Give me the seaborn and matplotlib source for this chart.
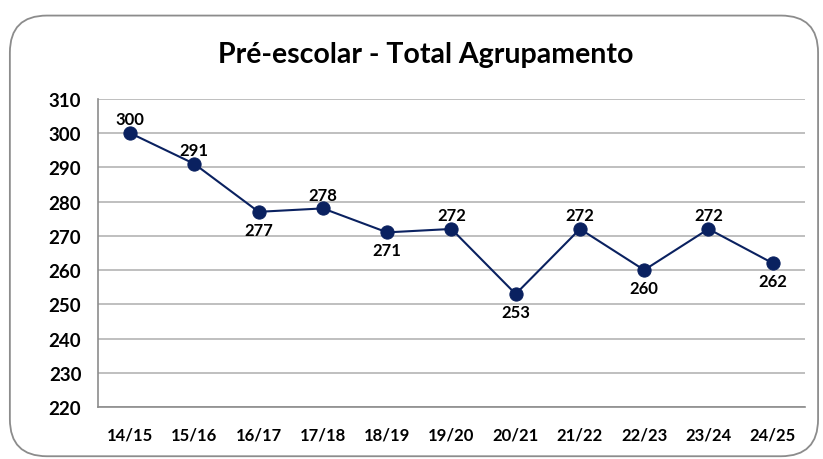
import matplotlib
matplotlib.use("Agg")
import matplotlib.pyplot as plt
import seaborn as sns
import pandas as pd
import numpy as np
from matplotlib.patches import FancyBboxPatch

# data
anos = ["14/15", "15/16", "16/17", "17/18", "18/19", "19/20",
        "20/21", "21/22", "22/23", "23/24", "24/25"]
alunos = [300, 291, 277, 278, 271, 272, 253, 272, 260, 272, 262]
label_pos = ["above", "above", "below", "above", "below", "above",
             "below", "above", "below", "above", "below"]
y_ticks = list(range(220, 311, 10))

df = pd.DataFrame({"ano": anos, "alunos": alunos, "pos": label_pos})
df["x"] = np.arange(len(df))

sns.set_style("white")
plt.rcParams["font.family"] = ["Lato", "DejaVu Sans"]
plt.rcParams["text.color"] = "black"
plt.rcParams["xtick.labelcolor"] = "black"
plt.rcParams["ytick.labelcolor"] = "black"

navy = "#0a2160"
grid_c = "#bfbfbf"

fig = plt.figure(figsize=(8.23, 4.60), dpi=100)
ax = fig.add_axes([0.119, 0.113, 0.859, 0.670])

# rounded chart border
border = FancyBboxPatch((0.012, 0.006), 0.982, 0.958,
                        boxstyle="round,pad=0,rounding_size=0.045",
                        transform=fig.transFigure, facecolor="none",
                        edgecolor="#8c8c8c", linewidth=1.3, zorder=-1,
                        mutation_aspect=823 / 460)
fig.patches.append(border)

sns.lineplot(data=df, x="x", y="alunos", ax=ax, color=navy, linewidth=1.5,
             marker="o", markersize=9.5, markeredgecolor=navy, zorder=3)

for _, r in df.iterrows():
    off = 10 if r["pos"] == "above" else -13
    ax.annotate(str(r["alunos"]), (r["x"], r["alunos"]), xytext=(0, off),
                textcoords="offset points", ha="center", va="center",
                fontsize=12, fontweight="bold", color="black")

ax.set_xlim(-0.5, len(anos) - 0.5)
ax.set_ylim(220, 310)
ax.set_yticks(y_ticks)
ax.set_yticklabels([str(v) for v in y_ticks], fontsize=13.5, fontweight="bold")
ax.set_xticks(df["x"])
ax.set_xticklabels(anos, fontsize=12, fontweight="bold")
ax.set_xticks(np.arange(-0.5, len(anos)), minor=True)
ax.tick_params(axis="x", which="major", length=0, pad=14, labelcolor="black")
ax.tick_params(axis="x", which="minor", length=5, color="#8c8c8c", width=1)
ax.tick_params(axis="y", length=6, color="#8c8c8c", width=1, pad=6,
               labelcolor="black")
ax.yaxis.grid(True, color=grid_c, linewidth=1.4)
ax.set_axisbelow(True)

for s in ["top", "right"]:
    ax.spines[s].set_visible(False)
for s in ["left", "bottom"]:
    ax.spines[s].set_color("#8c8c8c")
    ax.spines[s].set_linewidth(1.2)

ax.set_xlabel("")
ax.set_ylabel("")

fig.text(0.517, 0.88, "Pré-escolar - Total Agrupamento", ha="center",
         va="center", fontsize=20.5, fontweight="bold", color="black")

fig.savefig("out.png", dpi=100)
